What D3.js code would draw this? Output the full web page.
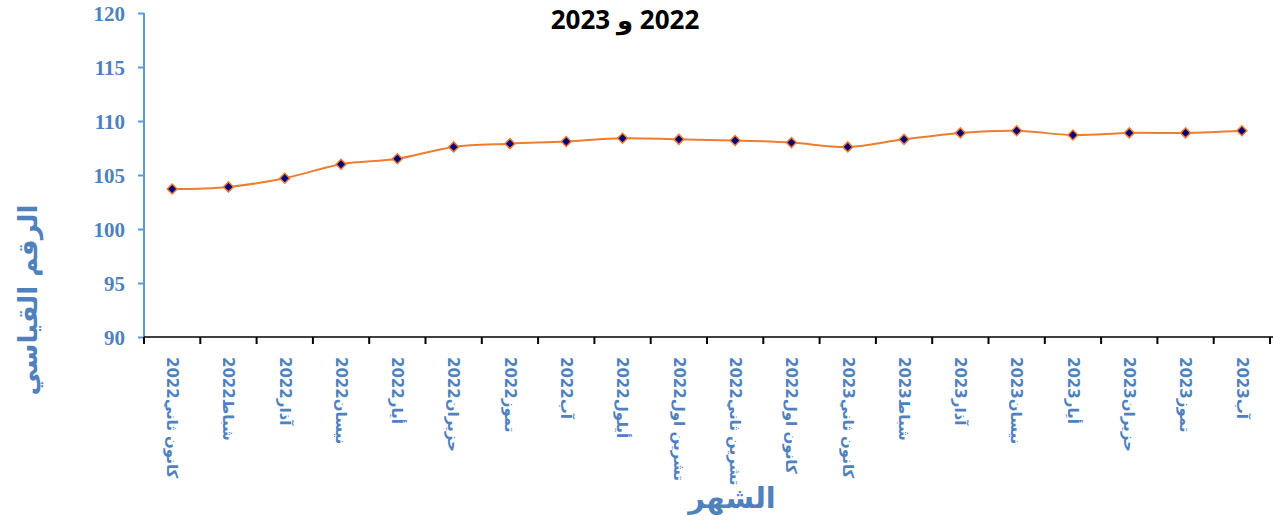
<!DOCTYPE html>
<html><head><meta charset="utf-8">
<script src="https://cdn.jsdelivr.net/npm/d3@7"></script>
<style>body{margin:0;background:#fff}svg{display:block}</style>
</head><body>
<svg id="c" width="1273" height="522"></svg>
<script>
const months = ["كانون ثاني2022","شباط2022","آذار2022","نيسان2022","أيار2022","حزيران2022","تموز2022","آب2022","أيلول2022","تشرين اول2022","تشرين ثاني2022","كانون اول2022","كانون ثاني2023","شباط2023","آذار2023","نيسان2023","أيار2023","حزيران2023","تموز2023","آب2023"];
const values = [103.7,103.9,104.7,106.0,106.5,107.6,107.9,108.1,108.4,108.3,108.2,108.0,107.6,108.3,108.9,109.1,108.7,108.9,108.9,109.1];
const yTicks = [90,95,100,105,110,115,120];
const titleText = "2022 و 2023";
const yTitle = "الرقم القياسي";
const xTitle = "الشهر";

const svg = d3.select("#c");
const x = d3.scaleBand().domain(months).range([144,1270]);
const y = d3.scaleLinear().domain([90,120]).range([337,13]);

// title
svg.append("text").attr("x",625).attr("y",29).attr("text-anchor","middle")
  .attr("direction","rtl").style("unicode-bidi","embed")
  .attr("font-family","'Open Sans', 'DejaVu Sans', sans-serif").attr("font-weight","bold")
  .attr("font-size",26).attr("fill","#000").text(titleText);

// Y axis
const ya = svg.append("g").attr("transform","translate(144,0)")
  .call(d3.axisLeft(y).tickValues(yTicks).tickSize(6).tickPadding(13).tickFormat(d3.format("d")));
ya.select(".domain").attr("stroke","#5B9BD5").attr("stroke-width",2).attr("d","M0,13V337");
ya.selectAll(".tick line").attr("stroke","#5B9BD5").attr("stroke-width",2);
ya.selectAll(".tick text").attr("fill","#4F81BD").attr("font-family","'Liberation Serif', serif")
  .attr("font-weight","bold").attr("font-size",21).attr("dy","0.34em");

// X axis
const xa = svg.append("g").attr("transform","translate(0,337)");
xa.append("line").attr("x1",144).attr("x2",1273).attr("y1",0).attr("y2",0)
  .attr("stroke","#000").attr("stroke-width",1.5);
const bounds = d3.range(months.length+1).map(i => x.range()[0] + i*x.step());
xa.selectAll("line.tk").data(bounds).join("line").attr("class","tk")
  .attr("x1",d=>d).attr("x2",d=>d).attr("y1",0).attr("y2",7)
  .attr("stroke","#000").attr("stroke-width",2);
xa.selectAll("text.lb").data(months).join("text").attr("class","lb")
  .attr("transform",d=>`translate(${x(d)+x.bandwidth()/2},20) rotate(90)`)
  .attr("dy","0.35em").attr("text-anchor","start")
  .attr("font-family","'DejaVu Sans', sans-serif").attr("font-size",15).attr("font-weight","bold")
  .attr("fill","#4F81BD").text(d=>d);

// axis titles
svg.append("text").attr("transform","translate(28,300) rotate(-90)").attr("text-anchor","middle")
  .attr("dy","0.35em").attr("font-family","'DejaVu Sans', sans-serif").attr("font-weight","bold")
  .attr("font-size",26).attr("fill","#4F81BD").text(yTitle);
svg.append("text").attr("x",732).attr("y",508).attr("text-anchor","middle")
  .attr("font-family","'DejaVu Sans', sans-serif").attr("font-weight","bold")
  .attr("font-size",29).attr("fill","#4F81BD").text(xTitle);

// line
const line = d3.line().x((d,i)=>x(months[i])+x.bandwidth()/2).y(d=>y(d)).curve(d3.curveCatmullRom.alpha(0.5));
svg.append("path").datum(values).attr("d",line).attr("fill","none").attr("stroke","#ED7D31").attr("stroke-width",2);

// markers
const diamond = d3.symbol().type(d3.symbolSquare).size(50);
svg.selectAll("path.mk").data(values).join("path").attr("class","mk")
  .attr("d",diamond)
  .attr("transform",(d,i)=>`translate(${x(months[i])+x.bandwidth()/2},${y(d)}) rotate(45)`)
  .attr("fill","#000080").attr("stroke","#ED7D31").attr("stroke-width",1.5);
</script>
</body></html>
